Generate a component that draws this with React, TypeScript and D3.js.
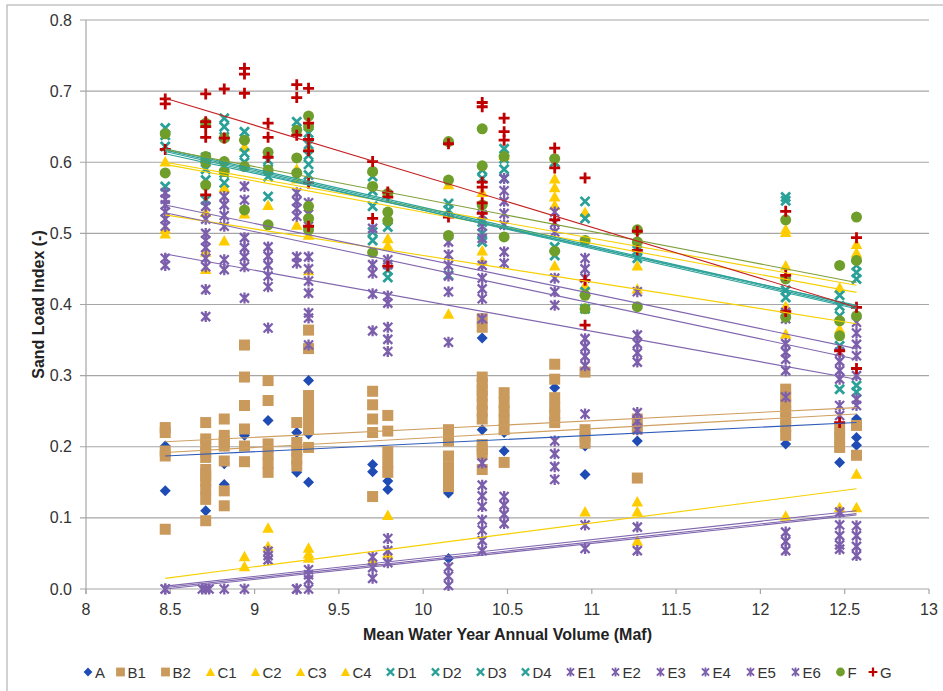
import React from "react";
import * as d3 from "d3";

// series order as in the legend
const seriesNames = ["A", "B1", "B2", "C1", "C2", "C3", "C4", "D1", "D2", "D3", "D4", "E1", "E2", "E3", "E4", "E5", "E6", "F", "G"];

type Pt = [number, number];

const ptsA: Pt[] = [[8.47, 0.201], [8.47, 0.138], [8.71, 0.211], [8.71, 0.168], [8.71, 0.136], [8.71, 0.11], [8.82, 0.201], [8.82, 0.176], [8.82, 0.147], [8.94, 0.216], [9.08, 0.237], [9.08, 0.192], [9.25, 0.22], [9.25, 0.164], [9.32, 0.293], [9.32, 0.218], [9.32, 0.15], [9.7, 0.175], [9.7, 0.165], [9.79, 0.152], [9.79, 0.14], [10.15, 0.158], [10.15, 0.135], [10.15, 0.043], [10.35, 0.353], [10.35, 0.288], [10.35, 0.224], [10.48, 0.22], [10.48, 0.194], [10.78, 0.283], [10.96, 0.201], [10.96, 0.161], [11.27, 0.208], [12.15, 0.204], [12.47, 0.178], [12.57, 0.239], [12.57, 0.213], [12.57, 0.202]];

const ptsB1: Pt[] = [[8.47, 0.227], [8.47, 0.194], [8.47, 0.084], [8.71, 0.234], [8.71, 0.203], [8.71, 0.185], [8.71, 0.159], [8.71, 0.14], [8.71, 0.096], [8.82, 0.239], [8.82, 0.207], [8.82, 0.18], [8.82, 0.117], [8.94, 0.343], [8.94, 0.258], [8.94, 0.201], [9.08, 0.293], [9.08, 0.204], [9.08, 0.177], [9.25, 0.234], [9.25, 0.194], [9.25, 0.173], [9.32, 0.364], [9.32, 0.272], [9.32, 0.246], [9.32, 0.225], [9.7, 0.278], [9.7, 0.239], [9.7, 0.13], [9.79, 0.244], [9.79, 0.193], [9.79, 0.164], [10.15, 0.224], [10.15, 0.208], [10.15, 0.172], [10.15, 0.144], [10.35, 0.38], [10.35, 0.298], [10.35, 0.279], [10.35, 0.26], [10.35, 0.239], [10.35, 0.196], [10.35, 0.168], [10.48, 0.276], [10.48, 0.25], [10.48, 0.224], [10.78, 0.316], [10.78, 0.269], [10.78, 0.245], [10.96, 0.305], [10.96, 0.214], [11.27, 0.239], [11.27, 0.156], [12.15, 0.281], [12.15, 0.26], [12.15, 0.24], [12.15, 0.216], [12.47, 0.225], [12.47, 0.199], [12.57, 0.23]];

const ptsB2: Pt[] = [[8.47, 0.22], [8.47, 0.187], [8.71, 0.211], [8.71, 0.192], [8.71, 0.168], [8.71, 0.152], [8.71, 0.126], [8.82, 0.216], [8.82, 0.201], [8.82, 0.138], [8.94, 0.298], [8.94, 0.225], [8.94, 0.179], [9.08, 0.265], [9.08, 0.19], [9.08, 0.164], [9.25, 0.206], [9.25, 0.183], [9.32, 0.338], [9.32, 0.258], [9.32, 0.239], [9.32, 0.199], [9.7, 0.259], [9.7, 0.22], [9.79, 0.222], [9.79, 0.178], [10.15, 0.215], [10.15, 0.187], [10.15, 0.158], [10.35, 0.368], [10.35, 0.289], [10.35, 0.272], [10.35, 0.25], [10.35, 0.203], [10.35, 0.189], [10.48, 0.262], [10.48, 0.237], [10.48, 0.178], [10.78, 0.295], [10.78, 0.255], [10.78, 0.234], [10.96, 0.224], [10.96, 0.205], [11.27, 0.225], [12.15, 0.27], [12.15, 0.25], [12.15, 0.228], [12.47, 0.212], [12.57, 0.188]];

const ptsC1: Pt[] = [[8.47, 0.601], [8.71, 0.53], [8.82, 0.565], [8.94, 0.622], [9.08, 0.54], [9.25, 0.591], [9.32, 0.622], [9.79, 0.493], [10.15, 0.569], [10.35, 0.558], [10.48, 0.61], [10.78, 0.577], [10.96, 0.53], [11.27, 0.455], [12.15, 0.506], [12.47, 0.424], [12.57, 0.485]];
const ptsC2: Pt[] = [[8.47, 0.507], [8.71, 0.474], [8.94, 0.528], [9.25, 0.577], [9.32, 0.498], [9.79, 0.483], [10.35, 0.476], [10.78, 0.565], [10.78, 0.552], [12.15, 0.502], [12.57, 0.473]];
const ptsC3: Pt[] = [[8.47, 0.5], [8.71, 0.45], [8.82, 0.49], [9.25, 0.512], [9.32, 0.448], [10.15, 0.387], [10.35, 0.462], [10.78, 0.54], [10.78, 0.455], [10.96, 0.427], [11.27, 0.422], [12.15, 0.455], [12.15, 0.398], [12.15, 0.359], [12.47, 0.366]];
const ptsC4: Pt[] = [[8.94, 0.046], [8.94, 0.032], [9.08, 0.086], [9.08, 0.06], [9.32, 0.058], [9.32, 0.05], [9.32, 0.044], [9.7, 0.04], [9.79, 0.104], [9.79, 0.05], [10.96, 0.109], [11.27, 0.123], [11.27, 0.109], [11.27, 0.068], [12.15, 0.103], [12.47, 0.115], [12.57, 0.162], [12.57, 0.115]];

const ptsD1: Pt[] = [[8.47, 0.648], [8.71, 0.607], [8.82, 0.662], [8.94, 0.643], [9.08, 0.603], [9.25, 0.657], [9.32, 0.641], [9.7, 0.58], [9.79, 0.509], [10.15, 0.542], [10.35, 0.589], [10.48, 0.619], [10.78, 0.6], [10.96, 0.545], [11.27, 0.476], [12.15, 0.551], [12.47, 0.413], [12.57, 0.455]];
const ptsD2: Pt[] = [[8.47, 0.638], [8.71, 0.59], [8.82, 0.65], [8.94, 0.613], [9.08, 0.59], [9.25, 0.643], [9.32, 0.625], [9.7, 0.56], [9.79, 0.448], [10.15, 0.533], [10.35, 0.577], [10.48, 0.605], [10.78, 0.481], [10.96, 0.521], [11.27, 0.465], [12.15, 0.546], [12.47, 0.398], [12.57, 0.445]];
const ptsD3: Pt[] = [[8.47, 0.622], [8.71, 0.575], [8.82, 0.636], [8.94, 0.6], [9.08, 0.58], [9.32, 0.61], [9.7, 0.538], [9.79, 0.438], [10.15, 0.441], [10.35, 0.516], [10.48, 0.59], [10.78, 0.469], [10.96, 0.418], [12.15, 0.42], [12.47, 0.384], [12.57, 0.436]];
const ptsD4: Pt[] = [[8.47, 0.566], [8.71, 0.547], [8.82, 0.585], [8.82, 0.571], [9.08, 0.552], [9.32, 0.597], [9.32, 0.582], [9.7, 0.502], [9.7, 0.49], [10.35, 0.5], [10.35, 0.488], [10.48, 0.577], [10.96, 0.394], [12.15, 0.41], [12.47, 0.342], [12.47, 0.281], [12.57, 0.286], [12.57, 0.277]];

const ptsE1: Pt[] = [[8.47, 0.557], [8.47, 0.548], [8.47, 0.54], [8.71, 0.538], [8.71, 0.52], [8.71, 0.5], [8.82, 0.552], [8.82, 0.54], [8.94, 0.566], [8.94, 0.547], [9.08, 0.481], [9.08, 0.468], [9.25, 0.557], [9.25, 0.545], [9.32, 0.543], [9.32, 0.527], [9.32, 0.51], [9.7, 0.507], [9.7, 0.456], [9.79, 0.463], [9.79, 0.456], [10.15, 0.488], [10.15, 0.47], [10.35, 0.526], [10.35, 0.51], [10.35, 0.493], [10.48, 0.577], [10.48, 0.56], [10.48, 0.545], [10.78, 0.53], [10.78, 0.515], [10.96, 0.465], [10.96, 0.45], [10.96, 0.437], [11.27, 0.418], [11.27, 0.357], [12.15, 0.389], [12.15, 0.38], [12.47, 0.333], [12.47, 0.32], [12.57, 0.375], [12.57, 0.36]];
const ptsE2: Pt[] = [[8.47, 0.53], [8.47, 0.52], [8.47, 0.51], [8.71, 0.49], [8.71, 0.48], [8.71, 0.465], [8.82, 0.525], [8.82, 0.51], [8.94, 0.494], [8.94, 0.48], [9.08, 0.455], [9.08, 0.44], [9.25, 0.535], [9.25, 0.524], [9.32, 0.467], [9.32, 0.45], [9.32, 0.433], [9.7, 0.444], [9.79, 0.412], [9.79, 0.402], [10.15, 0.455], [10.15, 0.44], [10.35, 0.455], [10.35, 0.437], [10.48, 0.528], [10.48, 0.512], [10.78, 0.502], [10.78, 0.437], [10.96, 0.352], [10.96, 0.34], [11.27, 0.345], [11.27, 0.332], [12.15, 0.345], [12.15, 0.333], [12.47, 0.307], [12.47, 0.295], [12.57, 0.344], [12.57, 0.328]];
const ptsE3: Pt[] = [[8.47, 0.465], [8.47, 0.455], [8.71, 0.453], [8.71, 0.421], [8.71, 0.383], [8.82, 0.463], [8.82, 0.449], [8.94, 0.467], [8.94, 0.453], [8.94, 0.409], [9.08, 0.425], [9.08, 0.367], [9.25, 0.467], [9.25, 0.458], [9.32, 0.416], [9.32, 0.388], [9.32, 0.381], [9.32, 0.343], [9.7, 0.415], [9.7, 0.363], [9.79, 0.368], [9.79, 0.351], [9.79, 0.334], [10.15, 0.418], [10.15, 0.347], [10.35, 0.422], [10.35, 0.408], [10.35, 0.38], [10.48, 0.474], [10.48, 0.458], [10.78, 0.418], [10.78, 0.399], [10.96, 0.327], [10.96, 0.314], [10.96, 0.246], [11.27, 0.319], [11.27, 0.248], [11.27, 0.236], [11.27, 0.224], [12.15, 0.323], [12.15, 0.307], [12.15, 0.27], [12.47, 0.258], [12.47, 0.244], [12.57, 0.3], [12.57, 0.267], [12.57, 0.258]];
const ptsE4: Pt[] = [[8.47, 0], [8.69, 0], [8.82, 0], [9.08, 0.053], [9.25, 0], [9.32, 0.027], [9.7, 0.045], [9.79, 0.071], [10.15, 0.031], [10.35, 0.177], [10.35, 0.146], [10.35, 0.131], [10.48, 0.13], [10.78, 0.208], [10.78, 0.19], [10.96, 0.09], [11.27, 0.087], [12.15, 0.08], [12.47, 0.108], [12.47, 0.09], [12.57, 0.089]];
const ptsE5: Pt[] = [[8.47, 0], [8.73, 0], [8.94, 0], [9.08, 0.047], [9.25, 0], [9.32, 0.02], [9.32, 0.013], [9.7, 0.03], [9.79, 0.054], [10.15, 0.018], [10.35, 0.116], [10.35, 0.097], [10.48, 0.118], [10.48, 0.105], [10.78, 0.172], [10.96, 0.057], [11.27, 0.054], [12.15, 0.067], [12.47, 0.075], [12.57, 0.075], [12.57, 0.06]];
const ptsE6: Pt[] = [[8.71, 0], [9.08, 0.041], [9.32, 0], [9.7, 0.015], [9.79, 0.037], [10.15, 0.005], [10.35, 0.083], [10.35, 0.068], [10.35, 0.054], [10.48, 0.092], [10.78, 0.154], [12.15, 0.054], [12.47, 0.062], [12.47, 0.056], [12.57, 0.047]];

const ptsF: Pt[] = [[8.47, 0.64], [8.47, 0.585], [8.71, 0.655], [8.71, 0.608], [8.71, 0.6], [8.71, 0.568], [8.82, 0.634], [8.82, 0.601], [8.82, 0.587], [8.94, 0.631], [8.94, 0.594], [8.94, 0.533], [9.08, 0.614], [9.08, 0.589], [9.08, 0.512], [9.25, 0.645], [9.25, 0.606], [9.25, 0.585], [9.32, 0.665], [9.32, 0.65], [9.32, 0.538], [9.32, 0.521], [9.32, 0.505], [9.7, 0.587], [9.7, 0.566], [9.7, 0.473], [9.79, 0.556], [9.79, 0.53], [9.79, 0.518], [10.15, 0.629], [10.15, 0.575], [10.15, 0.497], [10.35, 0.647], [10.35, 0.595], [10.35, 0.54], [10.48, 0.608], [10.48, 0.495], [10.78, 0.605], [10.78, 0.475], [10.96, 0.49], [10.96, 0.413], [10.96, 0.394], [11.27, 0.505], [11.27, 0.488], [11.27, 0.397], [12.15, 0.519], [12.15, 0.436], [12.15, 0.382], [12.47, 0.455], [12.47, 0.377], [12.47, 0.356], [12.57, 0.523], [12.57, 0.462], [12.57, 0.384]];

const ptsG: Pt[] = [[8.47, 0.689], [8.47, 0.682], [8.47, 0.618], [8.71, 0.696], [8.71, 0.657], [8.71, 0.65], [8.71, 0.635], [8.71, 0.554], [8.82, 0.703], [8.82, 0.634], [8.94, 0.732], [8.94, 0.724], [8.94, 0.697], [9.08, 0.655], [9.08, 0.635], [9.08, 0.607], [9.25, 0.709], [9.25, 0.691], [9.25, 0.638], [9.32, 0.704], [9.32, 0.655], [9.32, 0.632], [9.32, 0.616], [9.32, 0.571], [9.32, 0.51], [9.7, 0.601], [9.7, 0.521], [9.79, 0.558], [9.79, 0.551], [9.79, 0.454], [10.15, 0.626], [10.15, 0.523], [10.35, 0.684], [10.35, 0.678], [10.35, 0.572], [10.35, 0.565], [10.35, 0.543], [10.35, 0.528], [10.48, 0.662], [10.48, 0.643], [10.48, 0.631], [10.78, 0.62], [10.78, 0.592], [10.78, 0.519], [10.96, 0.578], [10.96, 0.434], [10.96, 0.371], [11.27, 0.503], [11.27, 0.476], [12.15, 0.531], [12.15, 0.441], [12.15, 0.39], [12.47, 0.335], [12.47, 0.234], [12.57, 0.494], [12.57, 0.396], [12.57, 0.31]];

const seriesPoints = [ptsA, ptsB1, ptsB2, ptsC1, ptsC2, ptsC3, ptsC4, ptsD1, ptsD2, ptsD3, ptsD4, ptsE1, ptsE2, ptsE3, ptsE4, ptsE5, ptsE6, ptsF, ptsG];

// linear trend line values read at the first and last volume
const trendRange = [8.47, 12.57];
const trendStart = [0.187, 0.207, 0.192, 0.6, 0.597, 0.526, 0.015, 0.619, 0.617, 0.615, 0.612, 0.54, 0.529, 0.471, 0.004, 0.002, 0.0, 0.618, 0.69];
const trendEnd = [0.234, 0.255, 0.246, 0.427, 0.417, 0.373, 0.141, 0.398, 0.396, 0.394, 0.399, 0.338, 0.323, 0.295, 0.11, 0.106, 0.104, 0.431, 0.396];

const xTicks = [8, 8.5, 9, 9.5, 10, 10.5, 11, 11.5, 12, 12.5, 13];
const yTicks = [0, 0.1, 0.2, 0.3, 0.4, 0.5, 0.6, 0.7, 0.8];

const family = (name: string) => name[0];
const markColor: Record<string, string> = { A: "#1f4cb4", B: "#c99a5b", C: "#ffcc00", D: "#2aa198", E: "#7c5fac", F: "#6f9e2b", G: "#c00000" };
const lineColor: Record<string, string> = { A: "#2f5cb8", B: "#cf9f62", C: "#f7d000", D: "#2aa198", E: "#8066ae", F: "#7f9f3a", G: "#c42020" };

function Marker({ kind, x, y }: { kind: string; x: number; y: number }) {
    const c = markColor[kind];
    const t = `translate(${x},${y})`;
    if (kind === "A") return <path transform={t} d="M0,-5.5L5.5,0L0,5.5L-5.5,0Z" fill={c} />;
    if (kind === "B") return <rect x={x - 5.5} y={y - 5.5} width={11} height={11} fill={c} />;
    if (kind === "C") return <path transform={t} d="M0,-5.5L5.8,5L-5.8,5Z" fill={c} />;
    if (kind === "D") return <path transform={t} d="M-4.5,-4.5L4.5,4.5M-4.5,4.5L4.5,-4.5" stroke={c} strokeWidth={2.8} />;
    if (kind === "E") return <path transform={t} d="M-4.5,-4.5L4.5,4.5M-4.5,4.5L4.5,-4.5M0,-5.5L0,5.5" stroke={c} strokeWidth={2.3} />;
    if (kind === "F") return <circle cx={x} cy={y} r={5.5} fill={c} />;
    return <path transform={t} d="M-5.5,0L5.5,0M0,-5.5L0,5.5" stroke={c} strokeWidth={2.8} />;
}

export default function App() {
    const width = 943;
    const height = 691;
    const x = d3.scaleLinear().domain([8, 13]).range([86, 929]);
    const y = d3.scaleLinear().domain([0, 0.8]).range([589, 20]);
    const font = "'Liberation Sans', Arial, sans-serif";

    // legend item positions, wider for two-letter names
    let lx = 88;
    const legendItems = seriesNames.map((n) => {
        const item = { n, x: lx };
        lx += 20 + 12.5 * n.length;
        return item;
    });

    return (
        <svg width={width} height={height} style={{ position: "absolute", left: 0, top: 0, background: "#fff" }} fontFamily={font}>
            <rect x={7} y={5} width={1000} height={800} fill="none" stroke="#a6a6a6" />
            {/* grid */}
            {yTicks.map((t) => (
                <g key={t}>
                    <line x1={80} x2={929} y1={y(t)} y2={y(t)} stroke="#a6a6a6" strokeWidth={1.2} />
                    <text x={72} y={y(t) + 5.5} textAnchor="end" fontSize={16} fill="#333">{d3.format(".1f")(t)}</text>
                </g>
            ))}
            <line x1={x(8)} x2={x(8)} y1={y(0.8)} y2={y(0) + 5} stroke="#a6a6a6" strokeWidth={1.2} />
            {xTicks.map((t) => (
                <g key={t}>
                    <line x1={x(t)} x2={x(t)} y1={y(0)} y2={y(0) + 5} stroke="#a6a6a6" strokeWidth={1.2} />
                    <text x={x(t)} y={y(0) + 26} textAnchor="middle" fontSize={16} fill="#333">{String(t)}</text>
                </g>
            ))}
            <text x={(x(8) + x(13)) / 2} y={640} textAnchor="middle" fontSize={16} fontWeight="bold" fill="#222">Mean Water Year Annual Volume (Maf)</text>
            <text transform={`translate(44,${(y(0) + y(0.8)) / 2}) rotate(-90)`} textAnchor="middle" fontSize={16} fontWeight="bold" fill="#222">Sand Load Index (-)</text>

            {/* markers */}
            {seriesNames.map((n, i) => (
                <g key={n}>
                    {seriesPoints[i].map((p, j) => (
                        <Marker key={j} kind={family(n)} x={x(p[0])} y={y(p[1])} />
                    ))}
                </g>
            ))}

            {/* trend lines */}
            {seriesNames.map((n, i) => (
                <line key={n} x1={x(trendRange[0])} x2={x(trendRange[1])} y1={y(trendStart[i])} y2={y(trendEnd[i])} stroke={lineColor[family(n)]} strokeWidth={1.1} />
            ))}

            {/* legend */}
            {legendItems.map((it) => (
                <g key={it.n} transform="translate(0,0)">
                    <g transform={`translate(${it.x},672) scale(0.8)`}>
                        <Marker kind={family(it.n)} x={0} y={0} />
                    </g>
                    <text x={it.x + 7} y={678} fontSize={15} fill="#333">{it.n}</text>
                </g>
            ))}
        </svg>
    );
}
